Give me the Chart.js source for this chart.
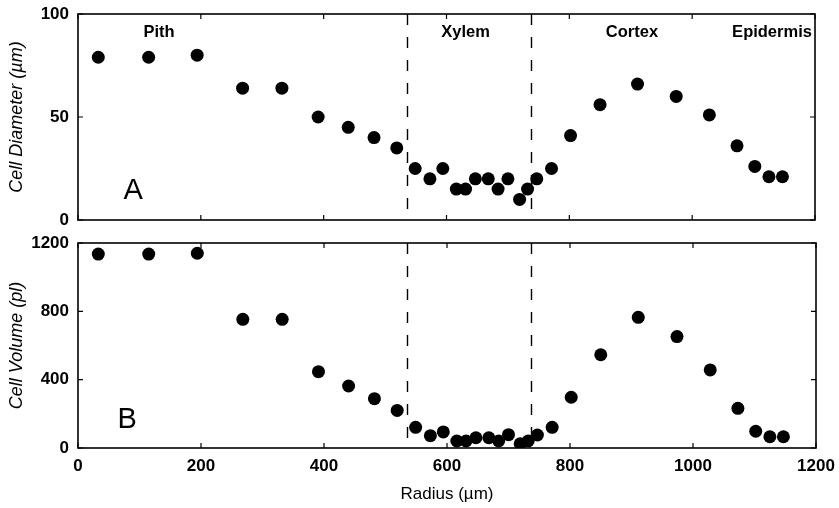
<!DOCTYPE html>
<html>
<head>
<meta charset="utf-8">
<script src="https://cdn.jsdelivr.net/npm/chart.js@4.4.0/dist/chart.umd.min.js"></script>
<style>
    html, body { margin: 0; padding: 0; background: #fff; }
    #wrap { position: relative; width: 839px; height: 508px; }
    #topBox { position: absolute; left: 0; top: 0; width: 839px; height: 232px; }
    #botBox { position: absolute; left: 0; top: 232px; width: 839px; height: 276px; }
</style>
</head>
<body>
<div id="wrap">
    <div id="topBox"><canvas id="diameterChart"></canvas></div>
    <div id="botBox"><canvas id="volumeChart"></canvas></div>
</div>
<script>
// Radius of each measured cell layer (µm)
const radius = [33, 115, 194, 268, 332, 391, 440, 482, 519, 549, 573, 594, 616, 631, 647, 668, 684, 700, 719, 732, 747, 771, 802, 850, 911, 974, 1028, 1073, 1102, 1125, 1147];
// Panel A: cell diameter (µm)
const diameter = [79, 79, 80, 64, 64, 50, 45, 40, 35, 25, 20, 25, 15, 15, 20, 20, 15, 20, 10, 15, 20, 25, 41, 56, 66, 60, 51, 36, 26, 21, 21];
// Panel B: cell volume (pl)
const volume = [1135, 1135, 1140, 753, 753, 447, 363, 289, 220, 121, 72, 94, 41, 41, 60, 60, 41, 78, 25, 41, 76, 121, 297, 546, 765, 652, 457, 232, 98, 66, 66];

const xTicks = [0, 200, 400, 600, 800, 1000, 1200];
const diameterTicks = [0, 50, 100];
const volumeTicks = [0, 400, 800, 1200];

// Xylem boundaries and tissue names
const zoneBounds = [535, 737];
const zoneNames = ['Pith', 'Xylem', 'Cortex', 'Epidermis'];
const zoneLabelX = [132, 631, 902, 1130];
const zoneLabelY = 91;

const FONT = '"Liberation Sans", Arial, Helvetica, sans-serif';

// Frame, inward ticks, dashed xylem lines and panel letters
const panelDecor = {
    id: 'panelDecor',
    beforeDatasetsDraw(chart, args, opts) {
        const { ctx, chartArea: a, scales: { x } } = chart;
        ctx.save();
        ctx.strokeStyle = '#000';
        ctx.lineWidth = 1.4;
        ctx.setLineDash([11, 12]);
        zoneBounds.forEach(v => {
            const px = Math.round(x.getPixelForValue(v)) + 0.5;
            ctx.beginPath();
            ctx.moveTo(px, a.top);
            ctx.lineTo(px, a.bottom);
            ctx.stroke();
        });
        ctx.restore();
    },
    afterDatasetsDraw(chart, args, opts) {
        const { ctx, chartArea: a, scales: { x, y } } = chart;
        ctx.save();
        ctx.strokeStyle = '#000';
        ctx.lineWidth = 1.6;
        ctx.strokeRect(a.left, a.top, a.width, a.height);

        ctx.lineWidth = 1.2;
        ctx.beginPath();
        xTicks.forEach(v => {
            const px = x.getPixelForValue(v);
            ctx.moveTo(px, a.bottom);
            ctx.lineTo(px, a.bottom - 5);
            ctx.moveTo(px, a.top);
            ctx.lineTo(px, a.top + 5);
        });
        opts.yTicks.forEach(v => {
            const py = y.getPixelForValue(v);
            ctx.moveTo(a.left, py);
            ctx.lineTo(a.left + 5, py);
            ctx.moveTo(a.right, py);
            ctx.lineTo(a.right - 5, py);
        });
        ctx.stroke();

        ctx.fillStyle = '#000';
        ctx.textAlign = 'center';
        ctx.textBaseline = 'middle';
        ctx.font = '29px ' + FONT;
        ctx.fillText(opts.letter, x.getPixelForValue(opts.letterX), y.getPixelForValue(opts.letterY));

        if (opts.showZones) {
            ctx.font = 'bold 16.5px ' + FONT;
            zoneNames.forEach((name, i) => {
                ctx.fillText(name, x.getPixelForValue(zoneLabelX[i]), y.getPixelForValue(zoneLabelY));
            });
        }
        ctx.restore();
    }
};

function tickFont() {
    return { family: FONT, size: 17, weight: 'bold' };
}

function makePanel(canvasId, values, yMax, yTicks, yTitle, showX, decor, padding) {
    const ctx = document.getElementById(canvasId).getContext('2d');
    return new Chart(ctx, {
        type: 'scatter',
        data: {
            datasets: [{
                data: radius.map((r, i) => ({ x: r, y: values[i] })),
                backgroundColor: '#000',
                borderWidth: 0,
                pointRadius: 6.5,
                pointHoverRadius: 6.5
            }]
        },
        options: {
            responsive: true,
            maintainAspectRatio: false,
            animation: false,
            events: [],
            layout: { padding: padding },
            plugins: {
                legend: { display: false },
                tooltip: { enabled: false },
                panelDecor: decor
            },
            scales: {
                x: {
                    type: 'linear',
                    min: 0,
                    max: 1200,
                    afterBuildTicks: s => { s.ticks = xTicks.map(v => ({ value: v })); },
                    afterFit: s => {
                        s.height = showX ? 60 : 0;
                        s.paddingLeft = 0;
                        s.paddingRight = 0;
                    },
                    grid: { display: false, drawTicks: false },
                    border: { display: false },
                    ticks: {
                        display: showX,
                        color: '#000',
                        font: tickFont(),
                        padding: 8,
                        maxRotation: 0,
                        callback: v => String(v)
                    },
                    title: {
                        display: showX,
                        text: 'Radius (µm)',
                        color: '#000',
                        font: { family: FONT, size: 17 },
                        padding: { top: 0, bottom: 3 }
                    }
                },
                y: {
                    min: 0,
                    max: yMax,
                    afterBuildTicks: s => { s.ticks = yTicks.map(v => ({ value: v })); },
                    afterFit: s => {
                        s.width = 78;
                        s.paddingTop = 0;
                        s.paddingBottom = 0;
                    },
                    grid: { display: false, drawTicks: false },
                    border: { display: false },
                    ticks: {
                        color: '#000',
                        font: tickFont(),
                        padding: 9,
                        callback: v => String(v)
                    },
                    title: {
                        display: true,
                        text: yTitle,
                        color: '#000',
                        font: { family: FONT, size: 18, style: 'italic' },
                        padding: { top: 6, bottom: 0 }
                    }
                }
            }
        },
        plugins: [panelDecor]
    });
}

document.addEventListener('DOMContentLoaded', () => {
    makePanel('diameterChart', diameter, 100, diameterTicks, 'Cell Diameter (µm)', false,
        { yTicks: diameterTicks, letter: 'A', letterX: 90, letterY: 14, showZones: true },
        { top: 14, right: 24, bottom: 12, left: 0 });
    makePanel('volumeChart', volume, 1200, volumeTicks, 'Cell Volume (pl)', true,
        { yTicks: volumeTicks, letter: 'B', letterX: 80, letterY: 164, showZones: false },
        { top: 11, right: 23, bottom: 0, left: 0 });
});
</script>
</body>
</html>
